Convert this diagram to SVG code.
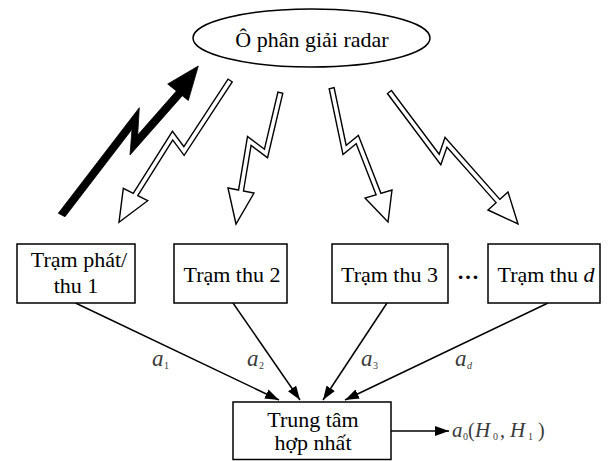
<svg xmlns="http://www.w3.org/2000/svg" width="608" height="461" viewBox="0 0 608 461">
<defs>
<style>
.shape{fill:#fff;stroke:#000;stroke-width:1.5}
.t{font-family:"Liberation Serif","Times New Roman",serif;font-size:22px;fill:#000;text-anchor:middle}
.m{font-family:"Liberation Serif","Times New Roman",serif;font-style:italic;font-size:21px;fill:#3a3a3a}
.la{font-family:"Liberation Serif","Times New Roman",serif;font-style:italic;font-size:23px;fill:#3a3a3a}
.mu{font-family:"Liberation Serif","Times New Roman",serif;font-size:20px;fill:#3a3a3a}
.ms{font-family:"Liberation Serif","Times New Roman",serif;font-size:10px;fill:#3a3a3a}
.conn{fill:none;stroke:#000;stroke-width:1.5;marker-end:url(#ah)}
.bo{fill:none;stroke:#000;stroke-width:6.4;stroke-linejoin:miter;stroke-miterlimit:12}
.bi{fill:none;stroke:#fff;stroke-width:3.6;stroke-linejoin:miter;stroke-miterlimit:12}
.hw{fill:#fff;stroke:#000;stroke-width:1.4;stroke-linejoin:miter}
</style>
<marker id="ah" markerUnits="userSpaceOnUse" markerWidth="15" markerHeight="10" refX="14" refY="5" orient="auto"><path d="M0,0 L14,5 L0,10 z" fill="#000"/></marker>
</defs>
<rect width="608" height="461" fill="#fff"/>

<g id="connectors">
  <polygon points="58.3,213.3 139.3,107.7 137.7,135 176.4,91 167.7,84 198.3,66 188.3,100.5 182.3,95.7 130,155 132,129.3 65,216.7" fill="#000" stroke="#000" stroke-width="0.8" stroke-linejoin="miter"/>
  <g id="bolt2">
    <path class="bo" d="M230.5,80 L184,151 L172.6,135.6 L135.5,194.5"/>
    <polygon class="hw" points="123.3,188.3 119,222.3 147.7,200.7"/>
    <path class="bi" d="M229.8,81.1 L184,151 L172.6,135.6 L134.4,196.2"/>
  </g>
  <g id="bolt3">
    <path class="bo" d="M280.5,92 L266,153.5 L249.3,140.9 L241,190.5"/>
    <polygon class="hw" points="228,188 236,224 254,193"/>
    <path class="bi" d="M280.2,93.3 L266,153.5 L249.3,140.9 L240.7,192.5"/>
  </g>
  <g id="bolt4">
    <path class="bo" d="M331.5,87.5 L344.6,150 L357.3,139.5 L378.5,194"/>
    <polygon class="hw" points="365,198 388,222 392,190"/>
    <path class="bi" d="M331.8,88.8 L344.6,150 L357.3,139.5 L379.2,195.9"/>
  </g>
  <g id="bolt5">
    <path class="bo" d="M389,91.5 L440,159.5 L446,142.3 L498,201"/>
    <polygon class="hw" points="488,210 518,224 508,192"/>
    <path class="bi" d="M389.8,92.5 L440,159.5 L446,142.3 L499.3,202.5"/>
  </g>
  <line class="conn" x1="75.5" y1="303" x2="279" y2="400"/>
  <line class="conn" x1="233" y1="303" x2="300" y2="400"/>
  <line class="conn" x1="387" y1="303" x2="323" y2="400"/>
  <line class="conn" x1="548" y1="303" x2="345" y2="400"/>
  <line class="conn" x1="391" y1="431" x2="449" y2="431"/>
</g>

<g id="cell">
  <ellipse class="shape" cx="311.5" cy="38" rx="118.5" ry="29"/>
  <text class="t" x="312" y="46.5">Ô phân giải radar</text>
</g>

<g id="station1">
  <rect class="shape" x="17" y="244" width="118" height="59"/>
  <text class="t" x="79" y="267">Trạm phát/</text>
  <text class="t" x="76" y="293">thu 1</text>
</g>
<g id="station2">
  <rect class="shape" x="174" y="244" width="113" height="59"/>
  <text class="t" x="232" y="282">Trạm thu 2</text>
</g>
<g id="station3">
  <rect class="shape" x="332" y="244" width="116" height="59"/>
  <text class="t" x="389.5" y="282">Trạm thu 3</text>
</g>
<text id="dots" class="t" x="468" y="279" font-weight="bold">…</text>
<g id="stationd">
  <rect class="shape" x="488" y="244" width="112" height="59"/>
  <text class="t" x="546" y="282">Trạm thu <tspan font-style="italic">d</tspan></text>
</g>

<g id="fusion">
  <rect class="shape" x="233" y="402" width="158" height="57.5"/>
  <text class="t" x="313" y="427">Trung tâm</text>
  <text class="t" x="313" y="450">hợp nhất</text>
</g>

<g id="labels">
  <text class="la" x="152" y="366">a</text><text class="ms" x="164" y="369">1</text>
  <text class="la" x="247" y="366">a</text><text class="ms" x="259" y="369">2</text>
  <text class="la" x="361" y="366">a</text><text class="ms" x="373" y="369">3</text>
  <text class="la" x="455" y="366">a</text><text class="ms" x="467" y="369" font-style="italic">d</text>
</g>

<g id="output">
  <text class="m" x="452" y="437">a</text>
  <text class="ms" x="463" y="440">0</text>
  <text class="mu" x="468" y="437">(</text>
  <text class="m" x="475" y="437">H</text>
  <text class="ms" x="493" y="440">0</text>
  <text class="mu" x="500" y="437">,</text>
  <text class="m" x="510" y="437">H</text>
  <text class="ms" x="528" y="440">1</text>
  <text class="mu" x="538" y="437">)</text>
</g>
</svg>
